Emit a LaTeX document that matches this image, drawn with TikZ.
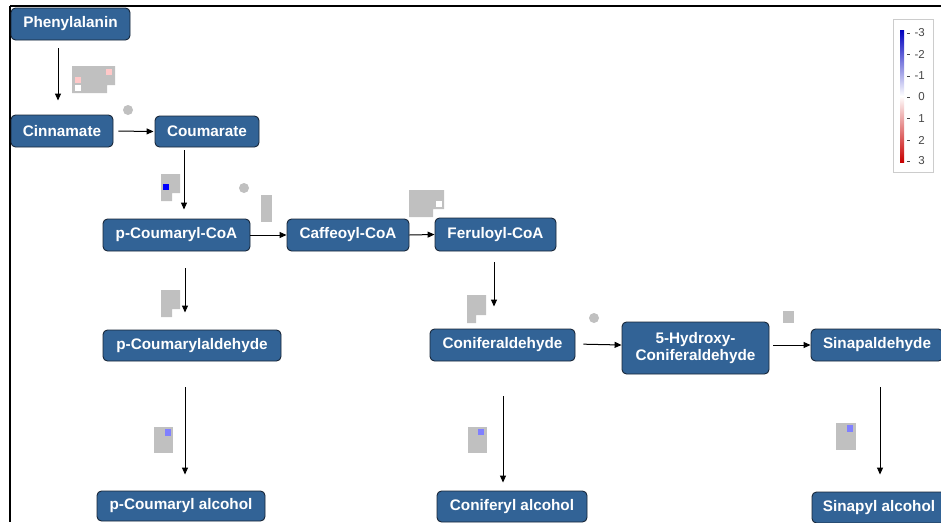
\documentclass[tikz,border=0pt]{standalone}
\usepackage{fontspec}
\setmainfont{Liberation Sans}
\usetikzlibrary{arrows.meta}
\definecolor{nodefill}{RGB}{50,99,150}
\definecolor{nodeedge}{RGB}{24,38,56}
\definecolor{boxgray}{RGB}{192,192,192}
\definecolor{pinkish}{RGB}{255,200,200}
\definecolor{midblue}{RGB}{128,128,255}
\definecolor{deepblue}{RGB}{0,0,255}
\definecolor{leggray}{RGB}{204,204,204}
\definecolor{labgray}{RGB}{70,70,70}
\tikzset{
  met/.style={draw=nodeedge, line width=0.9pt, fill=nodefill, rounded corners=4.5pt,
    text=white, font=\bfseries\fontsize{15.3}{17}\selectfont, inner sep=0pt, align=center},
  arr/.style={line width=1pt, -{Triangle[length=7pt,width=6pt]}},
  gbox/.style={fill=boxgray, draw=none},
  frameline/.style={line width=2pt, black},
  legtxt/.style={font=\fontsize{11.5}{13}\selectfont, text=labgray, inner sep=0pt, anchor=east}
}
\begin{document}
\begin{tikzpicture}[x=1pt,y=-1pt]
\useasboundingbox (0,0) rectangle (941,522);
\fill[white] (0,0) rectangle (941,522);
% frame
\draw[frameline] (10,6) -- (941,6);
\draw[frameline] (10,6) -- (10,522);

% gray enzyme boxes
\fill[gbox] (72,66) -- (115,66) -- (115,85) -- (107,85) -- (107,93) -- (72,93) -- cycle;
\fill[pinkish] (75,77) rectangle (81,83);
\fill[pinkish] (106,69) rectangle (112,75);
\fill[white] (75,85) rectangle (81,91);
\fill[gbox] (128,110) circle (5);
\fill[gbox] (161,174) -- (180,174) -- (180,193) -- (172,193) -- (172,201) -- (161,201) -- cycle;
\fill[deepblue] (163,184) rectangle (169,190);
\fill[gbox] (244,188) circle (5);
\fill[gbox] (261,195) rectangle (272,222);
\fill[gbox] (409,190) -- (444,190) -- (444,209) -- (433,209) -- (433,217) -- (409,217) -- cycle;
\fill[white] (436,201) rectangle (442,207);
\fill[gbox] (467,295) -- (486,295) -- (486,315) -- (476,315) -- (476,323) -- (467,323) -- cycle;
\fill[gbox] (161,290) -- (180,290) -- (180,309) -- (172,309) -- (172,317) -- (161,317) -- cycle;
\fill[gbox] (594,318) circle (5);
\fill[gbox] (783,311) rectangle (794,323);
\fill[gbox] (154,427) rectangle (173,453);
\fill[midblue] (165,429) rectangle (171,436);
\fill[gbox] (468,427) rectangle (487,453);
\fill[midblue] (478,429) rectangle (484,435);
\fill[gbox] (836,423) rectangle (856,450);
\fill[midblue] (847,425) rectangle (853,432);

% metabolite nodes
\node[met, minimum width=119, minimum height=32] (phe) at (70.5,24) {Phenylalanin};
\node[met, minimum width=102, minimum height=32] (cin) at (62,131) {Cinnamate};
\node[met, minimum width=104, minimum height=31] (cou) at (207,131.5) {Coumarate};
\node[met, minimum width=147, minimum height=32] (pcoa) at (176.5,235) {p-Coumaryl-CoA};
\node[met, minimum width=122, minimum height=32] (caf) at (348,235) {Caffeoyl-CoA};
\node[met, minimum width=121, minimum height=33] (fer) at (495.5,234.5) {Feruloyl-CoA};
\node[met, minimum width=178, minimum height=31] (pcald) at (192,345.5) {p-Coumarylaldehyde};
\node[met, minimum width=145, minimum height=32] (conald) at (502.5,345) {Coniferaldehyde};
\node[met, minimum width=147, minimum height=52] (hyd) at (695.5,348) {5-Hydroxy-\\Coniferaldehyde};
\node[met, minimum width=132, minimum height=32] (sinald) at (877,345) {Sinapaldehyde};
\node[met, minimum width=168, minimum height=30] (pcalc) at (181,506) {p-Coumaryl alcohol};
\node[met, minimum width=150, minimum height=31] (conalc) at (512,506.5) {Coniferyl alcohol};
\node[met, minimum width=134, minimum height=31] (sinalc) at (879,507.5) {Sinapyl alcohol};

% connectors
\draw[arr, shorten <=8pt, shorten >=14pt] ([xshift=-12.5pt]phe.south) -- ([xshift=-4pt]cin.north);
\draw[arr, shorten <=5pt, shorten >=1pt] (cin.east) -- (cou.west);
\draw[arr, shorten <=3pt, shorten >=9pt] ([xshift=-23pt]cou.south) -- ([xshift=7.5pt]pcoa.north);
\draw[arr] (pcoa.east) -- (caf.west);
\draw[arr] (caf.east) -- (fer.west);
\draw[arr, shorten <=11pt, shorten >=22pt] ([xshift=-1.5pt]fer.south) -- ([xshift=-8.5pt]conald.north);
\draw[arr, shorten <=17pt, shorten >=17pt] ([xshift=8.5pt]pcoa.south) -- ([xshift=-7pt]pcald.north);
\draw[arr, shorten <=8pt, shorten >=0pt] ([yshift=1pt]conald.east) -- (conald.east -| hyd.west);
\draw[arr, shorten <=4pt, shorten >=0pt] (hyd.east |- sinald.west) -- (sinald.west);
\draw[arr, shorten <=26pt, shorten >=16pt] ([xshift=-7pt]pcald.south) -- ([xshift=4pt]pcalc.north);
\draw[arr, shorten <=35pt, shorten >=8pt] ([xshift=0.5pt]conald.south) -- ([xshift=-9pt]conalc.north);
\draw[arr, shorten <=26pt, shorten >=17pt] ([xshift=3pt]sinald.south) -- ([xshift=1pt]sinalc.north);

% legend
\draw[leggray, fill=white, line width=0.8pt] (893,19) rectangle (933,172);
\shade[top color={rgb,255:red,0;green,0;blue,190}, bottom color={rgb,255:red,200;green,0;blue,0}, middle color=white] (900,30) rectangle (904,162);
\foreach \v/\yy [count=\i] in {-3/33,-2/54.5,-1/76,0/97,1/118.5,2/140,3/161}{
  \draw[labgray, line width=0.7pt] (907,\yy) -- (910,\yy);
  \node[legtxt] (lg\i) at (925,\yy) {\v};
}
\end{tikzpicture}
\end{document}
